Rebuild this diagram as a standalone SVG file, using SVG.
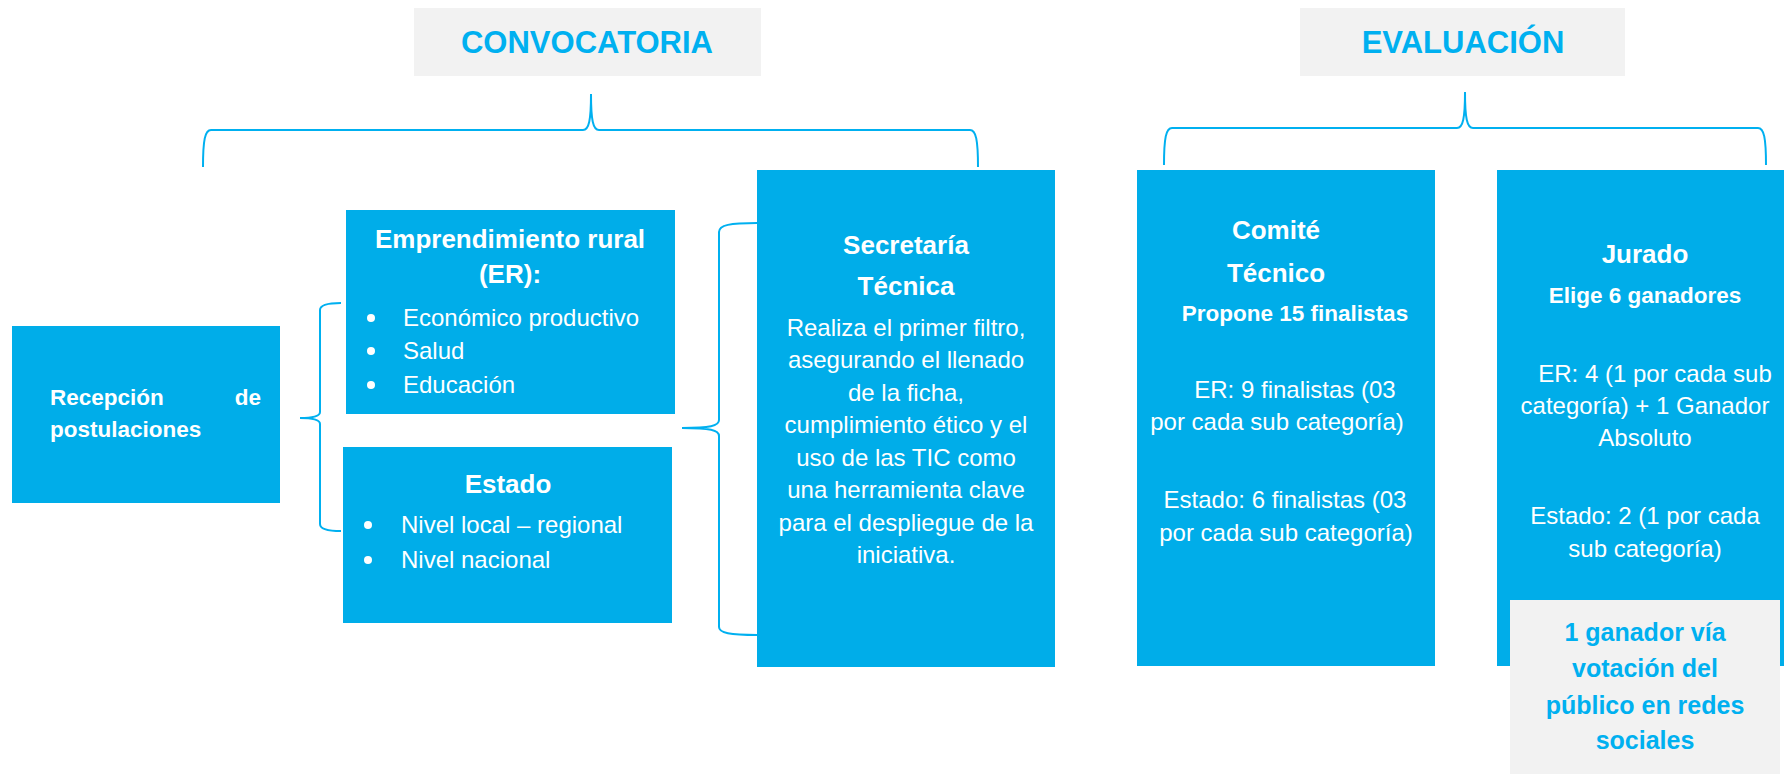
<svg xmlns="http://www.w3.org/2000/svg" width="1784" height="774" viewBox="0 0 1784 774">
<style>
.box{fill:#00ADE9}
.hdr{fill:#F2F2F2}
.brace{fill:none;stroke:#00B0F0;stroke-width:2}
text{font-family:"Liberation Sans",Arial,sans-serif;fill:#FFFFFF}
.b{font-weight:bold;font-size:26px}
.s{font-weight:bold;font-size:22.5px}
.r{font-size:24px}
.t{font-weight:bold;font-size:31px;fill:#00B0F0}
.g{font-weight:bold;font-size:25px;fill:#00B0F0}
.c{text-anchor:middle}
.dot{fill:#FFFFFF}
</style>
<rect width="1784" height="774" fill="#FFFFFF"/>
<g id="convocatoria">
<rect class="hdr" x="414" y="8" width="347" height="68"/>
<text class="t c" x="587" y="53">CONVOCATORIA</text>
</g>
<g id="evaluacion">
<rect class="hdr" x="1300" y="8" width="325" height="68"/>
<text class="t c" x="1463" y="53">EVALUACIÓN</text>
</g>
<g id="connectors">
<path class="brace" d="M203,167 C203,140 205,130 211,130 L583,130 C589,130 591,120 591,94 C591,120 593,130 599,130 L970,130 C976,130 978,140 978,167"/>
<path class="brace" d="M1164,165 C1164,138 1166,128 1172,128 L1457,128 C1463,128 1465,118 1465,92 C1465,118 1467,128 1473,128 L1758,128 C1764,128 1766,138 1766,165"/>
<path class="brace" d="M757,223 C730,223 719,225 719,232 L719,420 C719,426 710,428 682,428 C710,428 719,430 719,436 L719,627 C719,633 730,635 757,635"/>
<path class="brace" d="M341,303 C327,303 320,305 320,310 L320,412 C320,416 314,418 300,418 C314,418 320,420 320,424 L320,524 C320,529 327,531 341,531"/>
</g>
<g id="recepcion">
<rect class="box" x="12" y="326" width="268" height="177"/>
<text class="s" x="50" y="405">Recepción</text>
<text class="s" x="261" y="405" text-anchor="end">de</text>
<text class="s" x="50" y="437">postulaciones</text>
</g>
<g id="emprendimiento">
<rect class="box" x="346" y="210" width="329" height="204"/>
<text class="b c" x="510" y="248">Emprendimiento rural</text>
<text class="b c" x="510" y="283">(ER):</text>
<circle class="dot" cx="371" cy="318" r="4"/>
<circle class="dot" cx="371" cy="351" r="4"/>
<circle class="dot" cx="371" cy="385" r="4"/>
<text class="r" x="403" y="326">Económico productivo</text>
<text class="r" x="403" y="359">Salud</text>
<text class="r" x="403" y="393">Educación</text>
</g>
<g id="estado">
<rect class="box" x="343" y="447" width="329" height="176"/>
<text class="b c" x="508" y="493">Estado</text>
<circle class="dot" cx="368" cy="525" r="4"/>
<circle class="dot" cx="368" cy="560" r="4"/>
<text class="r" x="401" y="533">Nivel local – regional</text>
<text class="r" x="401" y="568">Nivel nacional</text>
</g>
<g id="secretaria">
<rect class="box" x="757" y="170" width="298" height="497"/>
<text class="b c" x="906" y="254">Secretaría</text>
<text class="b c" x="906" y="295">Técnica</text>
<text class="r c" x="906" y="336">Realiza el primer filtro,</text>
<text class="r c" x="906" y="368">asegurando el llenado</text>
<text class="r c" x="906" y="401">de la ficha,</text>
<text class="r c" x="906" y="433">cumplimiento ético y el</text>
<text class="r c" x="906" y="466">uso de las TIC como</text>
<text class="r c" x="906" y="498">una herramienta clave</text>
<text class="r c" x="906" y="531">para el despliegue de la</text>
<text class="r c" x="906" y="563">iniciativa.</text>
</g>
<g id="comite">
<rect class="box" x="1137" y="170" width="298" height="496"/>
<text class="b c" x="1276" y="239">Comité</text>
<text class="b c" x="1276" y="282">Técnico</text>
<text class="s c" x="1295" y="321">Propone 15 finalistas</text>
<text class="r c" x="1295" y="398">ER: 9 finalistas (03</text>
<text class="r c" x="1277" y="430">por cada sub categoría)</text>
<text class="r c" x="1285" y="508">Estado: 6 finalistas (03</text>
<text class="r c" x="1286" y="541">por cada sub categoría)</text>
</g>
<g id="jurado">
<rect class="box" x="1497" y="170" width="287" height="496"/>
<text class="b c" x="1645" y="263">Jurado</text>
<text class="s c" x="1645" y="303">Elige 6 ganadores</text>
<text class="r c" x="1655" y="382">ER: 4 (1 por cada sub</text>
<text class="r c" x="1645" y="414">categoría) + 1 Ganador</text>
<text class="r c" x="1645" y="446">Absoluto</text>
<text class="r c" x="1645" y="524">Estado: 2 (1 por cada</text>
<text class="r c" x="1645" y="557">sub categoría)</text>
</g>
<g id="votacion">
<rect class="hdr" x="1510" y="600" width="270" height="174"/>
<text class="g c" x="1645" y="641">1 ganador vía</text>
<text class="g c" x="1645" y="677">votación del</text>
<text class="g c" x="1645" y="714">público en redes</text>
<text class="g c" x="1645" y="749">sociales</text>
</g>
</svg>
